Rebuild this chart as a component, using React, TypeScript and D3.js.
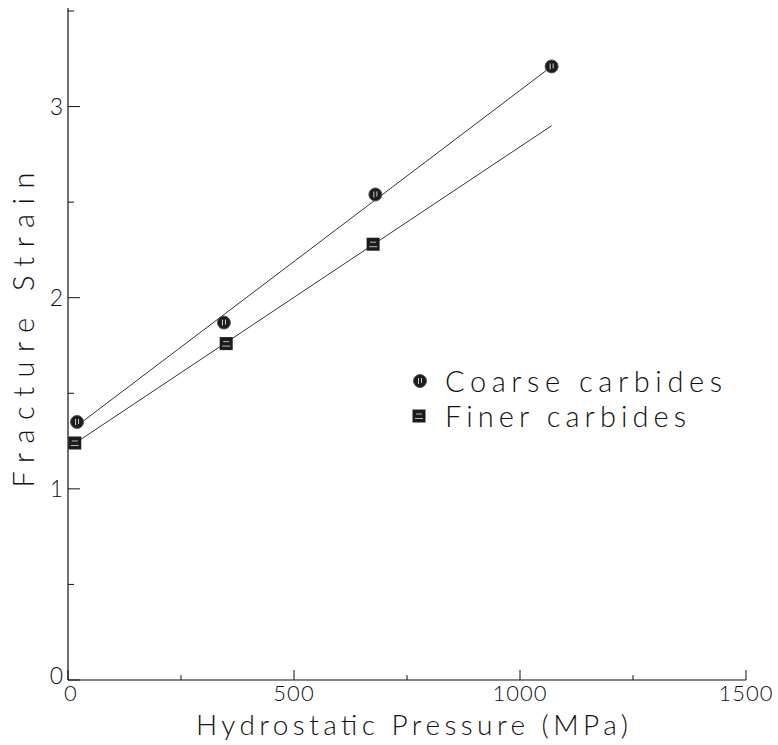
import React from "react";
import * as d3 from "d3";

// data
const coarseP = [20, 345, 680, 1070];
const coarseStrain = [1.35, 1.87, 2.54, 3.21];
const finerP = [15, 350, 675];
const finerStrain = [1.24, 1.76, 2.28];
// fitted lines (end points)
const coarseFitP = [20, 1070];
const coarseFitS = [1.33, 3.21];
const finerFitP = [10, 1070];
const finerFitS = [1.23, 2.9];

const xMajor = [0, 500, 1000, 1500];
const xMinor = [250, 750, 1250];
const yMajor = [0, 1, 2, 3];
const yMinor = [0.5, 1.5, 2.5, 3.5];

const FONT = "Lato, 'DejaVu Sans', sans-serif";

export default function App() {
  const x = d3.scaleLinear().domain([0, 1500]).range([68, 746]);
  const y = d3.scaleLinear().domain([0, 3.5]).range([680, 11]);
  const line = d3
    .line<[number, number]>()
    .x((d) => x(d[0]))
    .y((d) => y(d[1]));

  const coarseFit = coarseFitP.map((p, i) => [p, coarseFitS[i]] as [number, number]);
  const finerFit = finerFitP.map((p, i) => [p, finerFitS[i]] as [number, number]);

  const circleMark = (cx: number, cy: number, key: string) => (
    <g key={key}>
      <circle cx={cx} cy={cy} r={6.5} fill="#1c1c1c" stroke="#555" strokeWidth={1} />
      <line x1={cx - 1.5} y1={cy - 3} x2={cx - 1.5} y2={cy + 3} stroke="#fff" strokeWidth={0.8} />
      <line x1={cx + 1.5} y1={cy - 3} x2={cx + 1.5} y2={cy + 2} stroke="#fff" strokeWidth={0.8} />
    </g>
  );
  const squareMark = (cx: number, cy: number, key: string) => (
    <g key={key}>
      <rect x={cx - 6.5} y={cy - 6.5} width={13} height={13} fill="#1c1c1c" />
      <line x1={cx - 3} y1={cy - 2} x2={cx + 3} y2={cy - 2} stroke="#fff" strokeWidth={0.7} />
      <line x1={cx - 4} y1={cy + 2.5} x2={cx + 4} y2={cy + 2.5} stroke="#fff" strokeWidth={0.7} />
    </g>
  );

  return (
    <svg
      width={778}
      height={745}
      style={{ position: "absolute", left: 0, top: 0, background: "#fff" }}
      fontFamily={FONT}
    >
      {/* axes */}
      <line x1={x(0)} y1={y(0)} x2={x(1500)} y2={y(0)} stroke="#111" strokeWidth={1.2} />
      <line x1={x(0)} y1={y(0)} x2={x(0)} y2={8} stroke="#111" strokeWidth={1.2} />

      {xMajor.map((v) => (
        <line key={"xM" + v} x1={x(v)} x2={x(v)} y1={y(0)} y2={y(0) - 10} stroke="#111" strokeWidth={1} />
      ))}
      {xMinor.map((v) => (
        <line key={"xm" + v} x1={x(v)} x2={x(v)} y1={y(0)} y2={y(0) - 5} stroke="#111" strokeWidth={1} />
      ))}
      {yMajor.map((v) => (
        <line key={"yM" + v} x1={x(0)} x2={x(0) + 12} y1={y(v)} y2={y(v)} stroke="#111" strokeWidth={1} />
      ))}
      {yMinor.map((v) => (
        <line key={"ym" + v} x1={x(0)} x2={x(0) + 6} y1={y(v)} y2={y(v)} stroke="#111" strokeWidth={1} />
      ))}

      {xMajor.map((v) => (
        <text
          key={"xl" + v}
          x={x(v) + (v === 0 ? 3 : 0)}
          y={y(0) + 21}
          textAnchor="middle"
          fontSize={22}
          fontWeight={300}
          fill="#111"
          letterSpacing={1}
        >
          {v}
        </text>
      ))}
      {yMajor.map((v) => (
        <text
          key={"yl" + v}
          x={x(0) - 5}
          y={y(v) + (v === 0 ? 4 : 8)}
          textAnchor="end"
          fontSize={23}
          fontWeight={300}
          fill="#111"
        >
          {v}
        </text>
      ))}

      <text
        x={412}
        y={735}
        textAnchor="middle"
        fontSize={28}
        fontWeight={300}
        fill="#111"
        textLength={432}
        lengthAdjust="spacing"
      >
        Hydrostatic Pressure (MPa)
      </text>
      <text
        transform="translate(34,330) rotate(-90)"
        textAnchor="middle"
        fontSize={29}
        fontWeight={300}
        fill="#111"
        textLength={315}
        lengthAdjust="spacing"
      >
        Fracture Strain
      </text>

      {/* fits */}
      <path d={line(coarseFit) || ""} fill="none" stroke="#333" strokeWidth={1} />
      <path d={line(finerFit) || ""} fill="none" stroke="#333" strokeWidth={1} />

      {/* points */}
      {coarseP.map((p, i) => circleMark(x(p), y(coarseStrain[i]), "c" + i))}
      {finerP.map((p, i) => squareMark(x(p), y(finerStrain[i]), "f" + i))}

      {/* legend */}
      {circleMark(420, 381, "lc")}
      <text x={445} y={392} fontSize={29} fontWeight={300} fill="#111" textLength={277} lengthAdjust="spacing">
        Coarse carbides
      </text>
      {squareMark(419, 416, "lf")}
      <text x={445} y={427} fontSize={29} fontWeight={300} fill="#111" textLength={241} lengthAdjust="spacing">
        Finer carbides
      </text>
    </svg>
  );
}
